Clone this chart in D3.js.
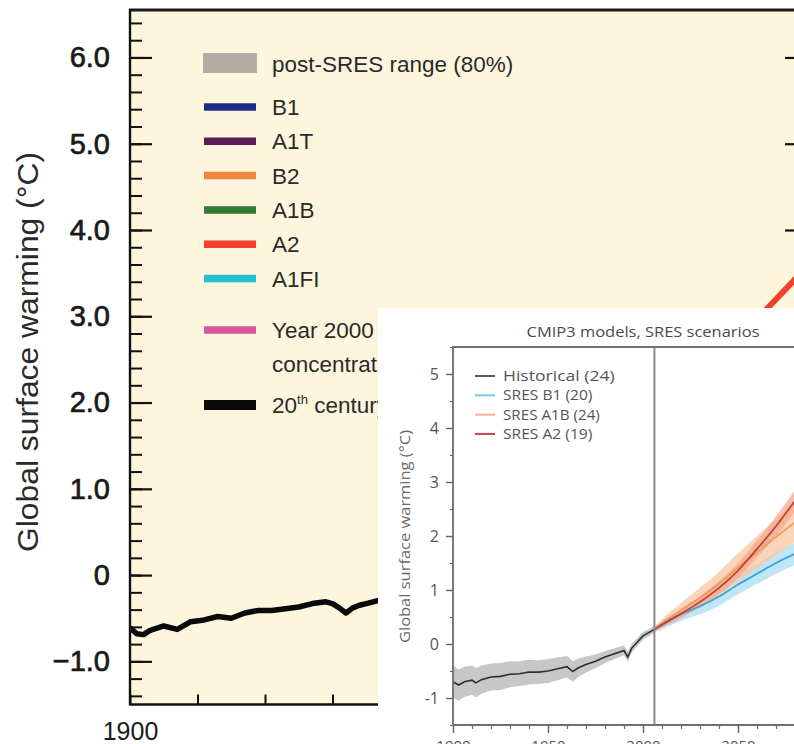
<!DOCTYPE html>
<html>
<head>
<meta charset="utf-8">
<script src="https://cdn.jsdelivr.net/npm/d3@7"></script>
<style>
  html, body { margin: 0; padding: 0; background: #fff; }
  svg { display: block; }
</style>
</head>
<body>
<div id="chart"></div>
<script>
// ---- main panel data (IPCC AR4 style) ----
const centuryYears = [1900, 1902, 1904, 1906, 1910, 1914, 1918, 1922, 1926, 1930, 1934, 1938, 1942, 1946, 1950, 1954, 1958, 1960, 1962, 1964, 1966, 1968, 1970, 1974, 1980, 1990, 2000];
const centuryValues = [-0.61, -0.68, -0.69, -0.64, -0.59, -0.63, -0.54, -0.52, -0.48, -0.50, -0.44, -0.41, -0.41, -0.39, -0.37, -0.33, -0.31, -0.33, -0.38, -0.44, -0.38, -0.35, -0.33, -0.29, -0.18, -0.05, 0.2];

const scenarioYears = [2000, 2010, 2020, 2030, 2040, 2050, 2060, 2070, 2080, 2090, 2100];
const a2Values = [0.2, 0.35, 0.55, 0.8, 1.05, 1.35, 1.75, 2.25, 2.72, 3.14, 3.55];
const a1bValues = [0.2, 0.38, 0.6, 0.85, 1.1, 1.4, 1.7, 2.0, 2.3, 2.55, 2.8];
const b1Values = [0.2, 0.33, 0.5, 0.68, 0.85, 1.0, 1.2, 1.38, 1.52, 1.68, 1.8];
const commitValues = [0.2, 0.35, 0.45, 0.5, 0.53, 0.56, 0.58, 0.6, 0.61, 0.62, 0.63];

const legendItems = [
  { label: "B1", color: "#1d2d86" },
  { label: "A1T", color: "#5b1c57" },
  { label: "B2", color: "#f2883e" },
  { label: "A1B", color: "#2f7a34" },
  { label: "A2", color: "#f3412b" },
  { label: "A1FI", color: "#25bfd6" }
];
const mainYTicks = [-1, 0, 1, 2, 3, 4, 5, 6];
const mainXTicks = [1900, 1920, 1940, 1960, 1980, 2000, 2020, 2040, 2060, 2080, 2100];
const mainXLabels = [1900];

// ---- inset data (CMIP3 models) ----
const histYears = [1900, 1903, 1906, 1910, 1912, 1915, 1920, 1925, 1930, 1935, 1940, 1945, 1950, 1955, 1960, 1963, 1966, 1970, 1975, 1980, 1985, 1990, 1992, 1994, 2000, 2006];
const histMean = [-0.70, -0.76, -0.70, -0.67, -0.72, -0.66, -0.61, -0.60, -0.56, -0.55, -0.52, -0.52, -0.50, -0.46, -0.42, -0.51, -0.44, -0.38, -0.32, -0.24, -0.18, -0.12, -0.24, -0.08, 0.15, 0.27];
const histSpread = [0.3, 0.29, 0.28, 0.27, 0.27, 0.26, 0.25, 0.25, 0.24, 0.23, 0.23, 0.22, 0.22, 0.21, 0.2, 0.19, 0.17, 0.15, 0.13, 0.11, 0.1, 0.09, 0.09, 0.08, 0.07, 0.06];

const sresYears = [2006, 2010, 2020, 2030, 2040, 2050, 2060, 2070, 2080, 2090, 2100];
const sresB1 = [0.27, 0.35, 0.55, 0.70, 0.88, 1.10, 1.30, 1.50, 1.67, 1.82, 1.95];
const sresB1Spread = [0.05, 0.08, 0.12, 0.15, 0.17, 0.18, 0.19, 0.2, 0.21, 0.22, 0.23];
const sresA1B = [0.27, 0.38, 0.62, 0.86, 1.12, 1.42, 1.70, 1.98, 2.25, 2.5, 2.72];
const sresA1BSpread = [0.05, 0.08, 0.14, 0.18, 0.22, 0.26, 0.3, 0.33, 0.36, 0.38, 0.4];
const sresA2 = [0.27, 0.36, 0.56, 0.78, 1.04, 1.36, 1.76, 2.18, 2.65, 3.1, 3.55];
const sresA2Spread = [0.04, 0.06, 0.08, 0.1, 0.12, 0.14, 0.16, 0.18, 0.2, 0.22, 0.24];

const insetLegend = [
  { label: "Historical (24)", color: "#5a5a5a" },
  { label: "SRES B1 (20)", color: "#7ccbea" },
  { label: "SRES A1B (24)", color: "#f6b48e" },
  { label: "SRES A2 (19)", color: "#c0464a" }
];
const insetYTicks = [-1, 0, 1, 2, 3, 4, 5];
const insetXLabels = [1900, 1950, 2000, 2050];

const width = 794, height = 744;
const svg = d3.select("#chart").append("svg")
  .attr("width", width)
  .attr("height", height);

// ================= main panel =================
const plot = { left: 130, right: 805, top: 10, bottom: 704.5 };
const x = d3.scaleLinear().domain([1900, 2100]).range([plot.left, plot.right]);
const y = d3.scaleLinear().domain([-1.5, 6.55]).range([plot.bottom, plot.top]);

svg.append("rect")
  .attr("x", plot.left).attr("y", plot.top)
  .attr("width", plot.right - plot.left).attr("height", plot.bottom - plot.top)
  .attr("fill", "#fdf6dd");

svg.append("defs").append("clipPath").attr("id", "main-clip")
  .append("rect")
  .attr("x", plot.left).attr("y", plot.top)
  .attr("width", plot.right - plot.left).attr("height", plot.bottom - plot.top);

const lineMain = d3.line().x(d => x(d[0])).y(d => y(d[1])).curve(d3.curveMonotoneX);
const mainLines = svg.append("g").attr("clip-path", "url(#main-clip)");

[[commitValues, "#d9559a"], [b1Values, "#1d2d86"], [a1bValues, "#2f7a34"], [a2Values, "#f3412b"]]
  .forEach(([vals, color]) => {
    mainLines.append("path")
      .datum(scenarioYears.map((yr, i) => [yr, vals[i]]))
      .attr("fill", "none")
      .attr("stroke", color)
      .attr("stroke-width", 6)
      .attr("stroke-linecap", "round")
      .attr("d", lineMain);
  });

mainLines.append("path")
  .datum(centuryYears.map((yr, i) => [yr, centuryValues[i]]))
  .attr("fill", "none")
  .attr("stroke", "#0a0a0a")
  .attr("stroke-width", 5.5)
  .attr("stroke-linejoin", "round")
  .attr("d", d3.line().x(d => x(d[0])).y(d => y(d[1])));

// y axis: minor and major ticks pointing inward
const minorY = d3.range(-1.4, 6.5, 0.2).map(v => +v.toFixed(1));
svg.append("g")
  .attr("transform", `translate(${plot.left},0)`)
  .call(d3.axisLeft(y).tickValues(minorY).tickSize(-12).tickFormat(""))
  .call(g => g.select(".domain").remove())
  .call(g => g.selectAll("line").attr("stroke", "#111").attr("stroke-width", 2));

svg.append("g")
  .attr("transform", `translate(${plot.left},0)`)
  .call(d3.axisLeft(y).tickValues(mainYTicks).tickSize(-22).tickPadding(20)
    .tickFormat(d => d === 0 ? "0" : d3.format(".1f")(d)))
  .call(g => g.select(".domain").remove())
  .call(g => g.selectAll("line").attr("stroke", "#111").attr("stroke-width", 2.2))
  .call(g => g.selectAll("text")
    .attr("font-family", "Liberation Sans, Arial, sans-serif")
    .attr("font-size", 29)
    .attr("fill", "#1a1a1a")
    .attr("stroke", "#1a1a1a")
    .attr("stroke-width", 0.7));

// right axis major ticks
svg.append("g")
  .attr("transform", `translate(${plot.right},0)`)
  .call(d3.axisRight(y).tickValues(mainYTicks).tickSize(-20).tickFormat(""))
  .call(g => g.select(".domain").remove())
  .call(g => g.selectAll("line").attr("stroke", "#111").attr("stroke-width", 2.2));

// x axis
svg.append("g")
  .attr("transform", `translate(0,${plot.bottom})`)
  .call(d3.axisBottom(x).tickValues(mainXTicks).tickSize(-10).tickFormat(""))
  .call(g => g.select(".domain").remove())
  .call(g => g.selectAll("line").attr("stroke", "#111").attr("stroke-width", 2));
svg.append("g")
  .attr("transform", `translate(0,${plot.bottom})`)
  .call(d3.axisBottom(x).tickValues(mainXLabels).tickSize(0).tickPadding(18).tickFormat(d3.format("d")))
  .call(g => g.select(".domain").remove())
  .call(g => g.selectAll("text")
    .attr("font-family", "Liberation Sans, Arial, sans-serif")
    .attr("font-size", 25)
    .attr("fill", "#1a1a1a"));

// frame lines
svg.append("rect")
  .attr("x", plot.left - 1).attr("y", plot.top - 1.5)
  .attr("width", width - plot.left + 1).attr("height", 3)
  .attr("fill", "#1a1a1a");
svg.append("line")
  .attr("x1", plot.left).attr("x2", plot.left)
  .attr("y1", plot.top - 1).attr("y2", plot.bottom + 1)
  .attr("stroke", "#111").attr("stroke-width", 2.4);
svg.append("line")
  .attr("x1", plot.left).attr("x2", width)
  .attr("y1", plot.bottom).attr("y2", plot.bottom)
  .attr("stroke", "#111").attr("stroke-width", 2.4);

// y label
svg.append("text")
  .attr("transform", `translate(38,${(152 + 552) / 2}) rotate(-90)`)
  .attr("text-anchor", "middle")
  .attr("font-family", "Liberation Sans, Arial, sans-serif")
  .attr("font-size", 30)
  .attr("fill", "#2a2a2a")
  .attr("textLength", 400)
  .attr("lengthAdjust", "spacingAndGlyphs")
  .text("Global surface warming (°C)");

// legend
const legendFont = "Liberation Sans, Arial, sans-serif";
const leg = svg.append("g");
leg.append("rect")
  .attr("x", 203).attr("y", 53).attr("width", 54).attr("height", 20)
  .attr("fill", "#b2ada5");
leg.append("text")
  .attr("x", 272).attr("y", 72)
  .attr("font-family", legendFont).attr("font-size", 22.5).attr("fill", "#2a2a2a")
  .text("post-SRES range (80%)");

const legRows = leg.selectAll("g.row")
  .data(legendItems)
  .join("g")
  .attr("class", "row")
  .attr("transform", (d, i) => `translate(0,${107 + i * 34.3})`);
legRows.append("line")
  .attr("x1", 204).attr("x2", 256)
  .attr("stroke", d => d.color).attr("stroke-width", 7.5);
legRows.append("text")
  .attr("x", 272).attr("y", 8)
  .attr("font-family", legendFont).attr("font-size", 22.5).attr("fill", "#2a2a2a")
  .text(d => d.label);

leg.append("line")
  .attr("x1", 204).attr("x2", 256).attr("y1", 330).attr("y2", 330)
  .attr("stroke", "#d9559a").attr("stroke-width", 7.5);
leg.append("text")
  .attr("x", 272).attr("y", 338)
  .attr("font-family", legendFont).attr("font-size", 22.5).attr("fill", "#2a2a2a")
  .text("Year 2000 constant");
leg.append("text")
  .attr("x", 272).attr("y", 372)
  .attr("font-family", legendFont).attr("font-size", 22.5).attr("fill", "#2a2a2a")
  .text("concentrations");
leg.append("line")
  .attr("x1", 204).attr("x2", 256).attr("y1", 405).attr("y2", 405)
  .attr("stroke", "#0a0a0a").attr("stroke-width", 10);
const cent = leg.append("text")
  .attr("x", 272).attr("y", 413)
  .attr("font-family", legendFont).attr("font-size", 22.5).attr("fill", "#2a2a2a");
cent.append("tspan").text("20");
cent.append("tspan").attr("dy", -9).attr("font-size", 13).text("th");
cent.append("tspan").attr("dy", 9).text(" century");

// ================= inset =================
const inset = { x: 378, y: 308 };
svg.append("rect")
  .attr("x", inset.x).attr("y", inset.y)
  .attr("width", width - inset.x).attr("height", height - inset.y)
  .attr("fill", "#ffffff");

const ip = { left: 453, right: 833, top: 347, bottom: 725 };
const xi = d3.scaleLinear().domain([1900, 2100]).range([ip.left, ip.right]);
const yi = d3.scaleLinear().domain([-1.5, 5.5]).range([ip.bottom, ip.top]);
const insetFont = "Open Sans, Noto Sans, sans-serif";
const insetText = "#555";

svg.select("defs").append("clipPath").attr("id", "inset-clip")
  .append("rect")
  .attr("x", ip.left).attr("y", ip.top)
  .attr("width", ip.right - ip.left).attr("height", ip.bottom - ip.top);

const ig = svg.append("g").attr("clip-path", "url(#inset-clip)");

function zip(years, mean, spread) {
  return years.map((yr, i) => [yr, mean[i], spread ? spread[i] : 0]);
}

ig.append("path")
  .datum(zip(histYears, histMean, histSpread))
  .attr("fill", "#bdbdbd").attr("opacity", 0.85)
  .attr("d", d3.area().x(d => xi(d[0])).y0(d => yi(d[1] - d[2])).y1(d => yi(d[1] + d[2])));

const sresSeries = [
  { mean: sresB1, spread: sresB1Spread, band: "#a9def3", line: "#3da3d4" },
  { mean: sresA1B, spread: sresA1BSpread, band: "#f9c7a2", line: "#f09a5e" },
  { mean: sresA2, spread: sresA2Spread, band: "#f4a98f", line: "#c23f36" }
];
sresSeries.forEach(s => {
  ig.append("path")
    .datum(zip(sresYears, s.mean, s.spread))
    .attr("fill", s.band).attr("opacity", 0.75)
    .attr("d", d3.area().x(d => xi(d[0])).y0(d => yi(d[1] - d[2])).y1(d => yi(d[1] + d[2])).curve(d3.curveMonotoneX));
});
sresSeries.forEach(s => {
  ig.append("path")
    .datum(zip(sresYears, s.mean))
    .attr("fill", "none").attr("stroke", s.line).attr("stroke-width", 1.8)
    .attr("d", d3.line().x(d => xi(d[0])).y(d => yi(d[1])).curve(d3.curveMonotoneX));
});

ig.append("path")
  .datum(zip(histYears, histMean))
  .attr("fill", "none").attr("stroke", "#2e2e2e").attr("stroke-width", 1.6)
  .attr("d", d3.line().x(d => xi(d[0])).y(d => yi(d[1])));

// vertical divider
svg.append("line")
  .attr("x1", xi(2006)).attr("x2", xi(2006))
  .attr("y1", ip.top).attr("y2", ip.bottom)
  .attr("stroke", "#8a8a8a").attr("stroke-width", 2);

// inset axes
svg.append("g")
  .attr("transform", `translate(${ip.left},0)`)
  .call(d3.axisLeft(yi).tickValues(d3.range(-1.5, 5.51, 0.5)).tickSize(3).tickFormat(""))
  .call(g => g.select(".domain").remove())
  .call(g => g.selectAll("line").attr("stroke", "#666").attr("stroke-width", 1.2));
svg.append("g")
  .attr("transform", `translate(${ip.left},0)`)
  .call(d3.axisLeft(yi).tickValues(insetYTicks).tickSize(7).tickPadding(7).tickFormat(d => d < 0 ? "-" + Math.abs(d) : d))
  .call(g => g.select(".domain").remove())
  .call(g => g.selectAll("line").attr("stroke", "#666").attr("stroke-width", 1.4))
  .call(g => g.selectAll("text")
    .attr("font-family", insetFont).attr("font-size", 16).attr("fill", insetText));

svg.append("g")
  .attr("transform", `translate(0,${ip.bottom})`)
  .call(d3.axisBottom(xi).tickValues(d3.range(1900, 2101, 10)).tickSize(4).tickFormat(""))
  .call(g => g.select(".domain").remove())
  .call(g => g.selectAll("line").attr("stroke", "#666").attr("stroke-width", 1.2));
svg.append("g")
  .attr("transform", `translate(0,${ip.bottom})`)
  .call(d3.axisBottom(xi).tickValues(insetXLabels).tickSize(8).tickPadding(7).tickFormat(d3.format("d")))
  .call(g => g.select(".domain").remove())
  .call(g => g.selectAll("line").attr("stroke", "#666").attr("stroke-width", 1.4))
  .call(g => g.selectAll("text")
    .attr("font-family", insetFont).attr("font-size", 15).attr("fill", insetText));

svg.append("path")
  .attr("d", `M${width},${ip.top}H${ip.left}V${ip.bottom}H${width}`)
  .attr("fill", "none").attr("stroke", "#6e6e6e").attr("stroke-width", 1.8);

svg.append("text")
  .attr("x", 643).attr("y", 337)
  .attr("text-anchor", "middle")
  .attr("font-family", insetFont).attr("font-size", 15).attr("fill", "#4a4a4a")
  .attr("textLength", 233).attr("lengthAdjust", "spacingAndGlyphs")
  .text("CMIP3 models, SRES scenarios");

svg.append("text")
  .attr("transform", `translate(410,${(430 + 643) / 2}) rotate(-90)`)
  .attr("text-anchor", "middle")
  .attr("font-family", insetFont).attr("font-size", 14).attr("fill", "#6a6a6a")
  .attr("textLength", 213).attr("lengthAdjust", "spacingAndGlyphs")
  .text("Global surface warming (°C)");

const iLeg = svg.append("g").selectAll("g")
  .data(insetLegend)
  .join("g")
  .attr("transform", (d, i) => `translate(0,${376 + i * 19.3})`);
iLeg.append("line")
  .attr("x1", 475).attr("x2", 495)
  .attr("stroke", d => d.color).attr("stroke-width", 2);
iLeg.append("text")
  .attr("x", 503).attr("y", 5)
  .attr("font-family", insetFont).attr("font-size", 15).attr("fill", "#555")
  .attr("textLength", d => d.label.length * 7.45)
  .attr("lengthAdjust", "spacingAndGlyphs")
  .text(d => d.label);
</script>
</body>
</html>
